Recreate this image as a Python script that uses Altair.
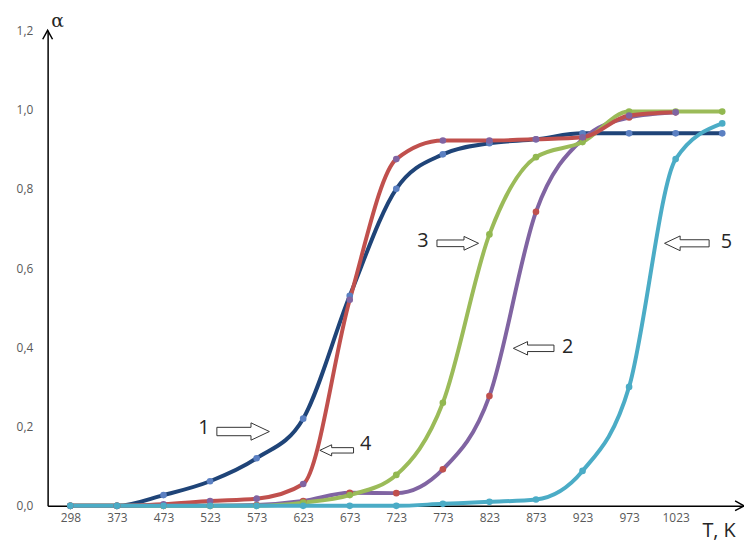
import altair as alt
import pandas as pd

# ---- data ----
temp_labels = ["298", "373", "473", "523", "573", "623", "673", "723",
               "773", "823", "873", "923", "973", "1023"]
series_names = ["1", "2", "3", "4", "5"]
curve1 = [0, 0, 0.027, 0.062, 0.12, 0.22, 0.53, 0.80, 0.887, 0.915, 0.925, 0.94, 0.94, 0.94, 0.94]
curve2 = [0, 0, 0, 0, 0.002, 0.012, 0.033, 0.032, 0.092, 0.277, 0.742, 0.925, 0.98, 0.993]
curve3 = [0, 0, 0, 0, 0, 0.008, 0.027, 0.078, 0.26, 0.685, 0.88, 0.918, 0.995, 0.995, 0.995]
curve4 = [0, 0, 0.004, 0.012, 0.018, 0.055, 0.52, 0.875, 0.922, 0.922, 0.925, 0.93, 0.985, 0.993]
curve5 = [0, 0, 0, 0, 0, 0, 0, 0, 0.005, 0.01, 0.016, 0.088, 0.30, 0.875, 0.965]

ann_text = ["1", "4", "3", "2", "5"]
ann_text_x = [2.87, 6.34, 7.57, 10.68, 14.09]
ann_text_y = [0.195, 0.155, 0.668, 0.40, 0.665]
arrow_x = [3.71, 5.72, 8.32, 9.95, 13.24]
arrow_y = [0.1875, 0.14, 0.6625, 0.3975, 0.6625]
arrow_len = [53, 34, 42, 41, 45]
arrow_dir = [0, 180, 0, 180, 180]

line_colors = ["#1F4478", "#8064A2", "#9BBB59", "#C0504D", "#4BACC6"]
marker_colors = ["#5B80C2", "#C0504D", "#92B850", "#8064A2", "#4BACC6"]

rows = []
for name, vals in zip(series_names, [curve1, curve2, curve3, curve4, curve5]):
    for i, v in enumerate(vals):
        rows.append({"series": name, "idx": i, "a": v})
df = pd.DataFrame(rows)

ann_df = pd.DataFrame({"t": ann_text, "x": ann_text_x, "y": ann_text_y})
arr_df = pd.DataFrame({"x": arrow_x, "y": arrow_y,
                       "sz": [l * l for l in arrow_len], "ang": arrow_dir})

W, H = 703, 480
xscale = alt.Scale(domain=[-0.489, 14.468], nice=False, zero=False)
yscale = alt.Scale(domain=[0, 1.2], nice=False)

label_arr = "[" + ",".join("'%s'" % t for t in temp_labels) + "]"

x_enc = alt.X("idx:Q", scale=xscale,
              axis=alt.Axis(values=list(range(len(temp_labels))),
                            labelExpr=label_arr + "[datum.value]",
                            title=None, ticks=False, grid=False,
                            domainColor="black", domainWidth=1.5,
                            labelColor="#595959", labelFontSize=12,
                            labelFont="Open Sans", labelPadding=7))
y_enc = alt.Y("a:Q", scale=yscale,
              axis=alt.Axis(values=[0, 0.2, 0.4, 0.6, 0.8, 1.0, 1.2],
                            labelExpr="replace(format(datum.value, '.1f'), '.', ',')",
                            title=None, ticks=False, grid=False,
                            domainColor="black", domainWidth=1.5,
                            labelColor="#595959", labelFontSize=12,
                            labelFont="Open Sans", labelPadding=15))

lines = alt.Chart(df).mark_line(interpolate="monotone", strokeWidth=4).encode(
    x=x_enc, y=y_enc,
    color=alt.Color("series:N", scale=alt.Scale(domain=series_names, range=line_colors), legend=None),
    order="idx:Q",
)
points = alt.Chart(df).mark_circle(size=45, opacity=1).encode(
    x=alt.X("idx:Q", scale=xscale),
    y=alt.Y("a:Q", scale=yscale),
    color=alt.Color("series:N", scale=alt.Scale(domain=series_names, range=marker_colors), legend=None),
)

labels = alt.Chart(ann_df).mark_text(fontSize=20, font="Open Sans", color="#262626",
                                     baseline="middle", align="center").encode(
    x=alt.X("x:Q", scale=xscale), y=alt.Y("y:Q", scale=yscale), text="t:N")

arrow_path = "M-1,-0.16L0.3,-0.16L0.3,-0.33L1,0L0.3,0.33L0.3,0.16L-1,0.16Z"
arrows = alt.Chart(arr_df).mark_point(shape=arrow_path, filled=True, fill="white",
                                      stroke="#333333", strokeWidth=1, opacity=1).encode(
    x=alt.X("x:Q", scale=xscale), y=alt.Y("y:Q", scale=yscale),
    size=alt.Size("sz:Q", scale=None), angle=alt.Angle("ang:Q", scale=None))

one = pd.DataFrame({"k": [0]})
y_head = alt.Chart(one).mark_point(shape="M-0.55,1L0,0L0.55,1", filled=False,
                                   stroke="black", strokeWidth=1.5, size=324, opacity=1).encode(
    x=alt.value(0), y=alt.value(0))
x_head = alt.Chart(one).mark_point(shape="M-1,-0.55L0,0L-1,0.55", filled=False,
                                   stroke="black", strokeWidth=1.5, size=324, opacity=1).encode(
    x=alt.value(W), y=alt.value(H))
alpha = alt.Chart(one).mark_text(text="α", fontSize=19, font="DejaVu Serif", color="#262626",
                                 baseline="middle").encode(
    x=alt.value(10), y=alt.value(-9))
tk = alt.Chart(one).mark_text(text="T, K", fontSize=20, font="Open Sans", color="#262626",
                              align="left", baseline="middle").encode(
    x=alt.value(661), y=alt.value(H + 25))

chart = alt.layer(lines, points, labels, arrows, y_head, x_head, alpha, tk).resolve_scale(
    color="independent"
).properties(
    width=W, height=H,
    padding={"left": 40, "top": 20, "right": 0, "bottom": 35},
    autosize=alt.AutoSizeParams(type="none"),
).configure_view(stroke=None)

chart.save("out.html", embed_options={"renderer": "svg", "actions": False})
